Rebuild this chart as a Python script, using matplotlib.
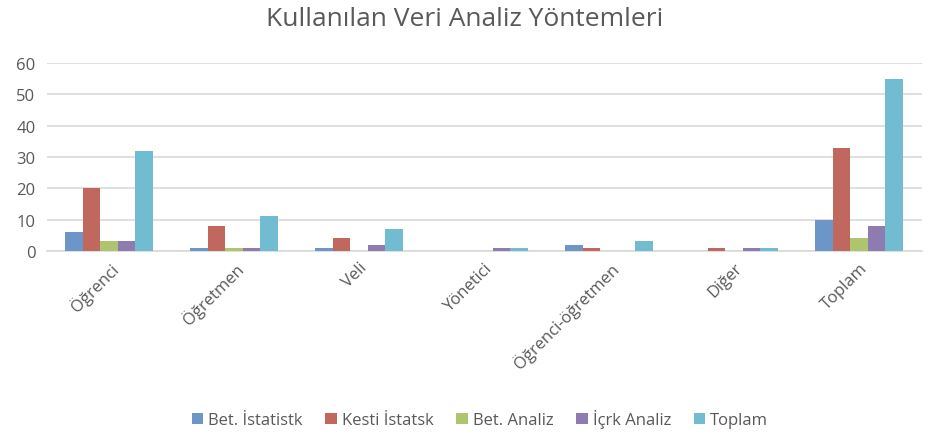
import matplotlib
matplotlib.use("Agg")
import matplotlib.pyplot as plt
import numpy as np

plt.rcParams['font.family'] = ['Open Sans', 'DejaVu Sans']

categories = ["Öğrenci", "Öğretmen", "Veli", "Yönetici", "Öğrenci-öğretmen", "Diğer", "Toplam"]
series_names = ["Bet. İstatistk", "Kesti İstatsk", "Bet. Analiz", "İçrk Analiz", "Toplam"]
bet_istatistik = [6, 1, 1, 0, 2, 0, 10]
kesti_istatistik = [20, 8, 4, 0, 1, 1, 33]
bet_analiz = [3, 1, 0, 0, 0, 0, 4]
icerik_analiz = [3, 1, 2, 1, 0, 1, 8]
toplam = [32, 11, 7, 1, 3, 1, 55]
yticks = [0, 10, 20, 30, 40, 50, 60]

series = [bet_istatistik, kesti_istatistik, bet_analiz, icerik_analiz, toplam]
colors = ["#6d96c8", "#c0675e", "#aec46e", "#8e7bb0", "#72bcd1"]

fig = plt.figure(figsize=(9.3, 4.35), dpi=100)
ax = fig.add_axes([0.05, 0.421, 0.941, 0.432])

x = np.arange(len(categories))
w = 0.14
for i, (vals, c, name) in enumerate(zip(series, colors, series_names)):
    ax.bar(x + (i - 2) * w, vals, width=w, color=c, label=name, zorder=3)

ax.set_xlim(-0.5, len(categories) - 0.5)
ax.set_ylim(0, 60)
ax.set_yticks(yticks)
ax.yaxis.grid(True, color="#d9d9d9", linewidth=1.2, zorder=0)
for s in ["top", "right", "left"]:
    ax.spines[s].set_visible(False)
ax.spines["bottom"].set_color("#d9d9d9")
ax.spines["bottom"].set_linewidth(1.2)
ax.tick_params(axis="y", length=0, labelsize=12, colors="#595959", pad=8)
ax.tick_params(axis="x", length=0, labelsize=12, colors="#595959", pad=6)
ax.set_xticks(x)
ax.set_xticklabels(categories, rotation=45, ha="right", rotation_mode="anchor")

fig.text(0.5, 0.955, "Kullanılan Veri Analiz Yöntemleri", ha="center", va="center",
         fontsize=19, color="#595959")

leg = fig.legend(loc="center", bbox_to_anchor=(0.516, 0.035), ncol=5, frameon=False,
                 fontsize=12, handlelength=0.7, handleheight=0.7, handletextpad=0.3,
                 columnspacing=1.35)
for t in leg.get_texts():
    t.set_color("#595959")

fig.savefig("out.png", dpi=100)
